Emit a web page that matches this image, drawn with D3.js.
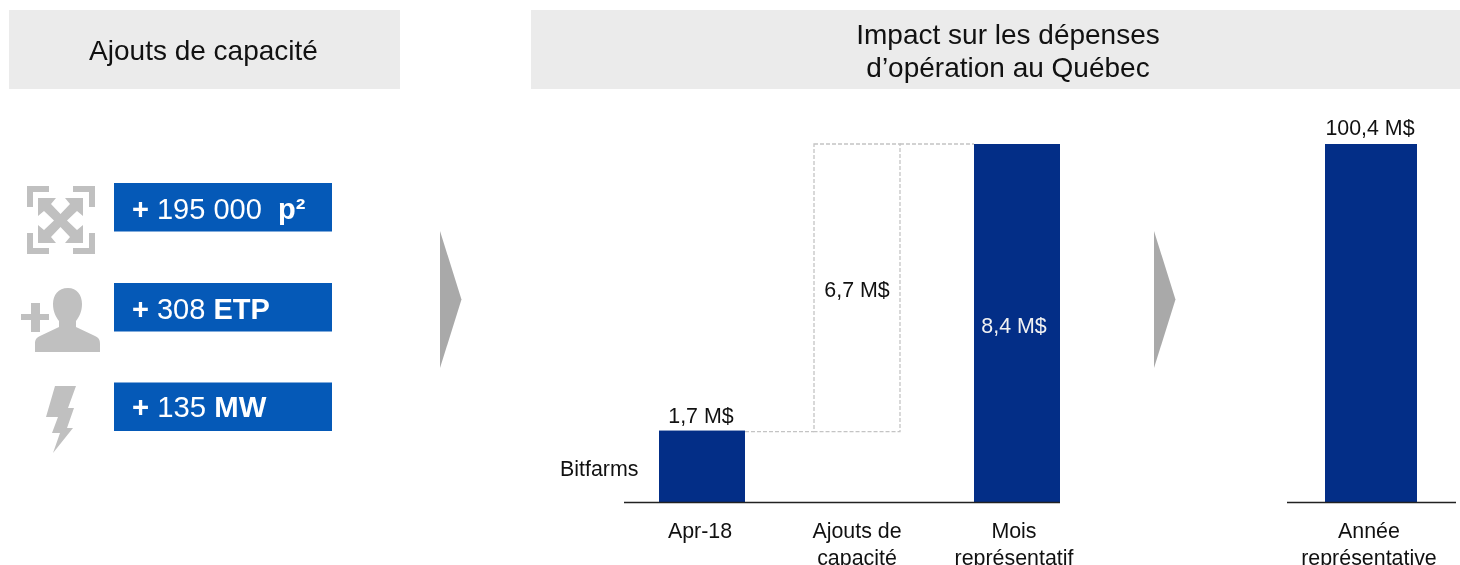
<!DOCTYPE html>
<html><head><meta charset="utf-8">
<script src="https://cdnjs.cloudflare.com/ajax/libs/d3/7.8.5/d3.min.js"></script>
<style>html,body{margin:0;background:#fff}svg{display:block;filter:blur(0.45px)}text{font-family:"Liberation Sans",Arial,sans-serif}</style>
</head><body><svg id="c" width="1460" height="565"></svg>
<script>
const monthCategories = [["Apr-18"], ["Ajouts de", "capacité"], ["Mois", "représentatif"]];
const monthBase = [0, 1.7, 0];
const monthValues = [1.7, 6.7, 8.4];
const monthLabels = ["1,7 M$", "6,7 M$", "8,4 M$"];
const yearCategories = [["Année", "représentative"]];
const yearValues = [100.4];
const yearLabels = ["100,4 M$"];
const seriesName = "Bitfarms";
const headerTitles = [["Ajouts de capacité"], ["Impact sur les dépenses", "d’opération au Québec"]];
const capacityNormal = ["+ 195 000  ", "+ 308 ", "+ 135 "];
const capacityBold = ["p²", "ETP", "MW"];

const svg = d3.select("#c");
const NAVY = "#032e87", BLUE = "#0559b7", GREY = "#c0c0c0", TXT = "#111";

// headers
[[9,391],[531,929]].forEach(([x,w],i)=>{
  svg.append("rect").attr("x",x).attr("y",10).attr("width",w).attr("height",79).attr("fill","#ebebeb");
  const lines = headerTitles[i];
  const cx = i?1008:203.5;
  lines.forEach((t,j)=>svg.append("text").attr("x",cx).attr("y",i?44+j*33:60).attr("text-anchor","middle")
    .attr("font-size",28).attr("fill",TXT).text(t));
});

// capacity boxes
capacityNormal.forEach((t,i)=>{
  const y = [183,283,382.5][i];
  svg.append("rect").attr("x",114).attr("y",y).attr("width",218).attr("height",48.5).attr("fill",BLUE);
  const tx = svg.append("text").attr("x",132).attr("y",y+[36,36,34.5][i]).attr("font-size",[29,29,29.3][i]).attr("fill","#fff").style("white-space","pre");
  tx.append("tspan").attr("font-weight","bold").text("+");
  tx.append("tspan").text(t.slice(1));
  tx.append("tspan").attr("font-weight","bold").text(capacityBold[i]);
});

// icons
const icon = svg.append("g").attr("fill",GREY);
icon.append("path").attr("d","M27 186h22v6H33v15h-6zM73 186h22v21h-6V192H73zM27 233h6v15h16v6H27zM89 233h6v21H73v-6h16zM38 198H56L51 204L60.5 214L70 204L65 198H83V216L77 211L67 220.5L77 230L83 225V243H65L70 237L60.5 227L51 237L56 243H38V225L44 230L54 220.5L44 211L38 216Z");
icon.append("path").attr("d","M21 314h10v-11h9v11h9v6H40v12h-9v-12H21zM68 288c9 0 14 7 14 16 0 8-3 13-6 17v6l19 9c4 2 5 4 5 8v8H35v-8c0-4 1-6 5-8l19-9v-6c-3-4-6-9-6-17 0-9 5-16 15-16z");
icon.append("path").attr("d","M55 386H76L68 408H74L67 428H73L53 453L60 433H52L58 417H46Z");

// arrows
[440,1154].forEach(x=>svg.append("path").attr("d",`M${x} 231L${x+21.5} 299.5L${x} 368Z`).attr("fill","#a9a9a9"));

// scales
const y = d3.scaleLinear().domain([0,8.4]).range([502,144]);
const x = d3.scaleBand().domain(d3.range(monthValues.length)).range([659,1060]).paddingInner(0.454).paddingOuter(0);
const yYear = d3.scaleLinear().domain([0,100.4]).range([502,144]);
const xYear = d3.scaleBand().domain(d3.range(yearValues.length)).range([1287,1456]).paddingInner(0).paddingOuter(0.4185).align(0.4935);
const bw = x.bandwidth();
const boxShift = -2.5;

// dashed connectors and floating box
const dash = {fill:"none",stroke:"#c4c4c4","stroke-width":1.3,"stroke-dasharray":"4 2"};
const applyDash = s=>{Object.entries(dash).forEach(([k,v])=>s.attr(k,v));return s;};
applyDash(svg.append("rect").attr("x",x(1)+boxShift).attr("y",y(monthBase[1]+monthValues[1]))
  .attr("width",bw).attr("height",y(monthBase[1])-y(monthBase[1]+monthValues[1])+2));
applyDash(svg.append("line").attr("x1",x(0)+bw).attr("x2",x(1)+boxShift).attr("y1",y(monthValues[0])+2).attr("y2",y(monthValues[0])+2));
applyDash(svg.append("line").attr("x1",x(1)+bw+boxShift).attr("x2",x(2)).attr("y1",y(monthValues[2])).attr("y2",y(monthValues[2])));

// solid bars
[0,2].forEach(i=>svg.append("rect").attr("x",x(i)).attr("y",y(monthValues[i])+(i?0:1)).attr("width",bw)
  .attr("height",y(0)-y(monthValues[i])-(i?0:1)).attr("fill",NAVY));
yearValues.forEach((v,i)=>svg.append("rect").attr("x",xYear(i)).attr("y",yYear(v)).attr("width",xYear.bandwidth())
  .attr("height",yYear(0)-yYear(v)).attr("fill",NAVY));

// axis lines
[[624,1060],[1287,1456]].forEach(([a,b])=>svg.append("line").attr("x1",a).attr("x2",b).attr("y1",502.5).attr("y2",502.5).attr("stroke","#222").attr("stroke-width",1.4));

// labels
const FS = 21.4;
const lab=(t,px,py,c=TXT,fs=FS)=>svg.append("text").attr("x",px).attr("y",py).attr("text-anchor","middle").attr("font-size",fs).attr("fill",c).text(t);
lab(monthLabels[0],x(0)+bw/2-1,423);
lab(monthLabels[1],x(1)+bw/2+boxShift,297);
lab(monthLabels[2],x(2)+bw/2-3,333,"#f2f2f2");
lab(yearLabels[0],xYear(0)+xYear.bandwidth()/2-1,134.5);
svg.append("text").attr("x",560).attr("y",476).attr("font-size",FS).attr("fill",TXT).text(seriesName);
monthCategories.forEach((ls,i)=>ls.forEach((t,j)=>lab(t,[x(0)+bw/2-2,x(1)+bw/2+boxShift,x(2)+bw/2-3][i],537.5+j*27.5)));
yearCategories.forEach((ls,i)=>ls.forEach((t,j)=>lab(t,xYear(i)+xYear.bandwidth()/2-2,537.5+j*27.5)));
</script></body></html>
